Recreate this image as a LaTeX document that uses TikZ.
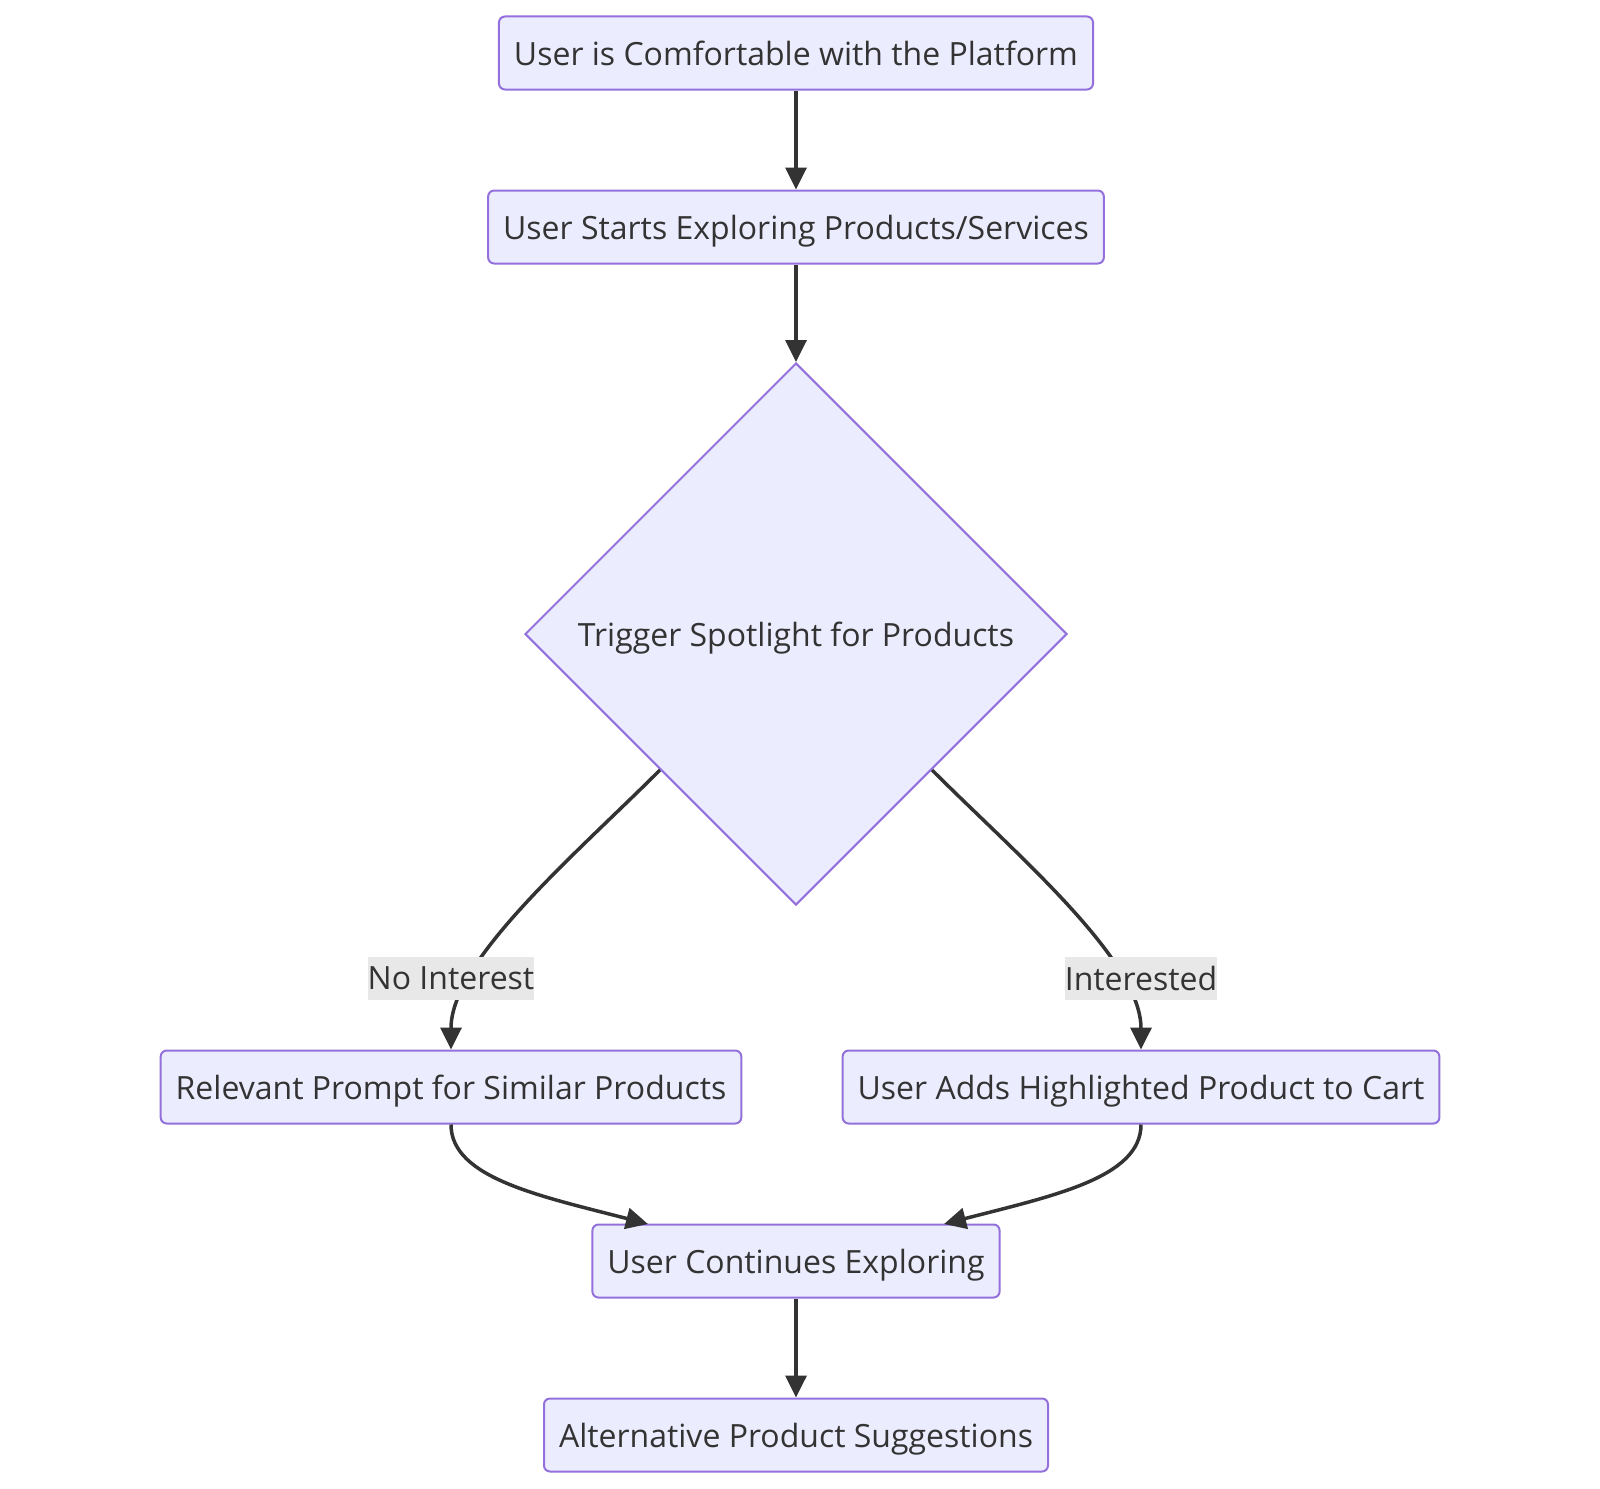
\documentclass[tikz,border=0pt]{standalone}
\usepackage{fontspec}
\setmainfont{Open Sans}
\usetikzlibrary{shapes.geometric, arrows.meta, positioning}
\definecolor{boxfill}{HTML}{ECECFF}
\definecolor{boxline}{HTML}{9370DB}
\definecolor{edgeline}{HTML}{333333}
\definecolor{labelbg}{HTML}{E8E8E8}

\begin{document}
\begin{tikzpicture}[x=1pt, y=-1pt,
        box/.style={draw=boxline, fill=boxfill, line width=2pt, rounded corners=6pt,
            minimum height=73pt, inner xsep=15pt, text depth=0pt, text=edgeline,
            font=\fontsize{32}{38}\selectfont},
        decision/.style={diamond, aspect=1, draw=boxline, fill=boxfill, line width=2pt,
            minimum width=542pt, minimum height=542pt, inner sep=0pt, text depth=0pt,
            text=edgeline, font=\fontsize{32}{38}\selectfont},
        edgelabel/.style={fill=labelbg, text=edgeline, inner xsep=0pt, minimum height=43pt,
            font=\fontsize{32}{38}\selectfont},
        flow/.style={draw=edgeline, line width=3.5pt, -{Triangle[length=22pt,width=21pt]}}]
        \useasboundingbox (0,0) rectangle (1600,1488);
        % nodes
        \node[box] (comfort) at (796,53) {User is Comfortable with the Platform};
        \node[box] (explore) at (796,227) {User Starts Exploring Products/Services};
        \node[decision] (spot) at (796,634) {Trigger Spotlight for Products};
        \node[box] (prompt) at (451,1087) {Relevant Prompt for Similar Products};
        \node[box] (cart) at (1141,1087) {User Adds Highlighted Product to Cart};
        \node[box] (cont) at (796,1261) {User Continues Exploring};
        \node[box] (alt) at (796,1435) {Alternative Product Suggestions};
        \coordinate (contL) at (648,1224);
        \coordinate (contR) at (944,1224);
        % edges
        \draw[flow] (comfort) -- (explore);
        \draw[flow] (explore) -- (spot);
        \draw[flow] (spot.south west) .. controls (575,855) and (451,960) .. (prompt.north);
        \draw[flow] (spot.south east) .. controls (1017,855) and (1141,960) .. (cart.north);
        \draw[flow] (prompt.south) .. controls (451,1178) and (540,1196) .. (contL);
        \draw[flow] (cart.south) .. controls (1141,1178) and (1052,1196) .. (contR);
        \draw[flow] (cont) -- (alt);
        % labels
        \node[edgelabel] (noint) at (451,978) {No Interest};
        \node[edgelabel] (yesint) at (1141,978) {Interested};
\end{tikzpicture}
\end{document}
